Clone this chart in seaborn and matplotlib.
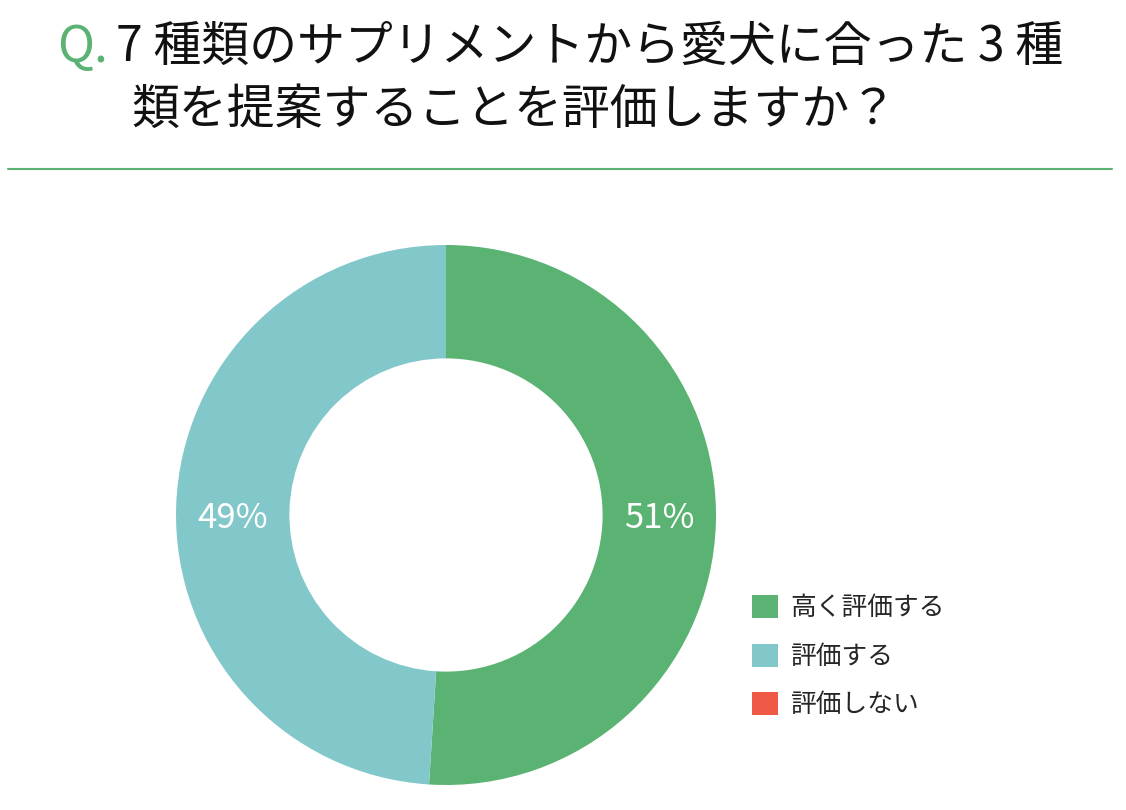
import matplotlib
matplotlib.use('Agg')
import numpy as np
import matplotlib.pyplot as plt
import seaborn as sns
from matplotlib.patches import Patch

sns.set_theme(style='white')
plt.rcParams['font.family'] = ['Noto Sans CJK JP', 'DejaVu Sans']

labels = ['高く評価する', '評価する', '評価しない']
values = [51, 49, 0]
colors = ['#5bb373', '#82c8cb', '#ee5a45']
title_q = 'Q.'
title_line1 = '7 種類のサプリメントから愛犬に合った 3 種'
title_line2 = '類を提案することを評価しますか？'

W, H = 1126, 810
fig = plt.figure(figsize=(W / 100, H / 100), dpi=100)

# donut: centre (446, 515) px, outer radius 270 px
ax = fig.add_axes([176 / W, (H - 515 - 270) / H, 540 / W, 540 / H])
wedges, _ = ax.pie(values, colors=colors, startangle=90, counterclock=False,
                   radius=1, wedgeprops=dict(width=0.42, linewidth=0))
ax.set_xlim(-1, 1)
ax.set_ylim(-1, 1)
ax.set_aspect('equal')
ax.axis('off')

# percentage labels sit on the horizontal through the centre
total = sum(values)
start = 90
for v in values:
    if v == 0:
        continue
    mid = start - v / total * 180
    start -= v / total * 360
    side = np.sign(np.cos(np.radians(mid)))
    ax.text(side * 0.79, 0, f'{v}%', color='white', fontsize=25,
            ha='center', va='center_baseline')

handles = [Patch(facecolor=c, edgecolor='none') for c in colors]
fig.legend(handles, labels, loc='upper left', bbox_to_anchor=(729 / W, 1 - 572 / H),
           frameon=False, fontsize=18.5, handlelength=1.0, handleheight=1.0,
           labelspacing=0.86, handletextpad=0.47)

fig.text(57 / W, 1 - 42 / H, title_q, color='#5bb373', fontsize=36,
         va='center_baseline')
fig.text(116 / W, 1 - 42 / H, title_line1, color='#111111', fontsize=34.5,
         va='center_baseline')
fig.text(131 / W, 1 - 105 / H, title_line2, color='#111111', fontsize=34.5,
         va='center_baseline')

fig.add_artist(plt.Line2D([8 / W, 1112 / W], [1 - 169 / H, 1 - 169 / H],
                          color='#5bb373', lw=1.5))

fig.savefig('out.png', dpi=100)
